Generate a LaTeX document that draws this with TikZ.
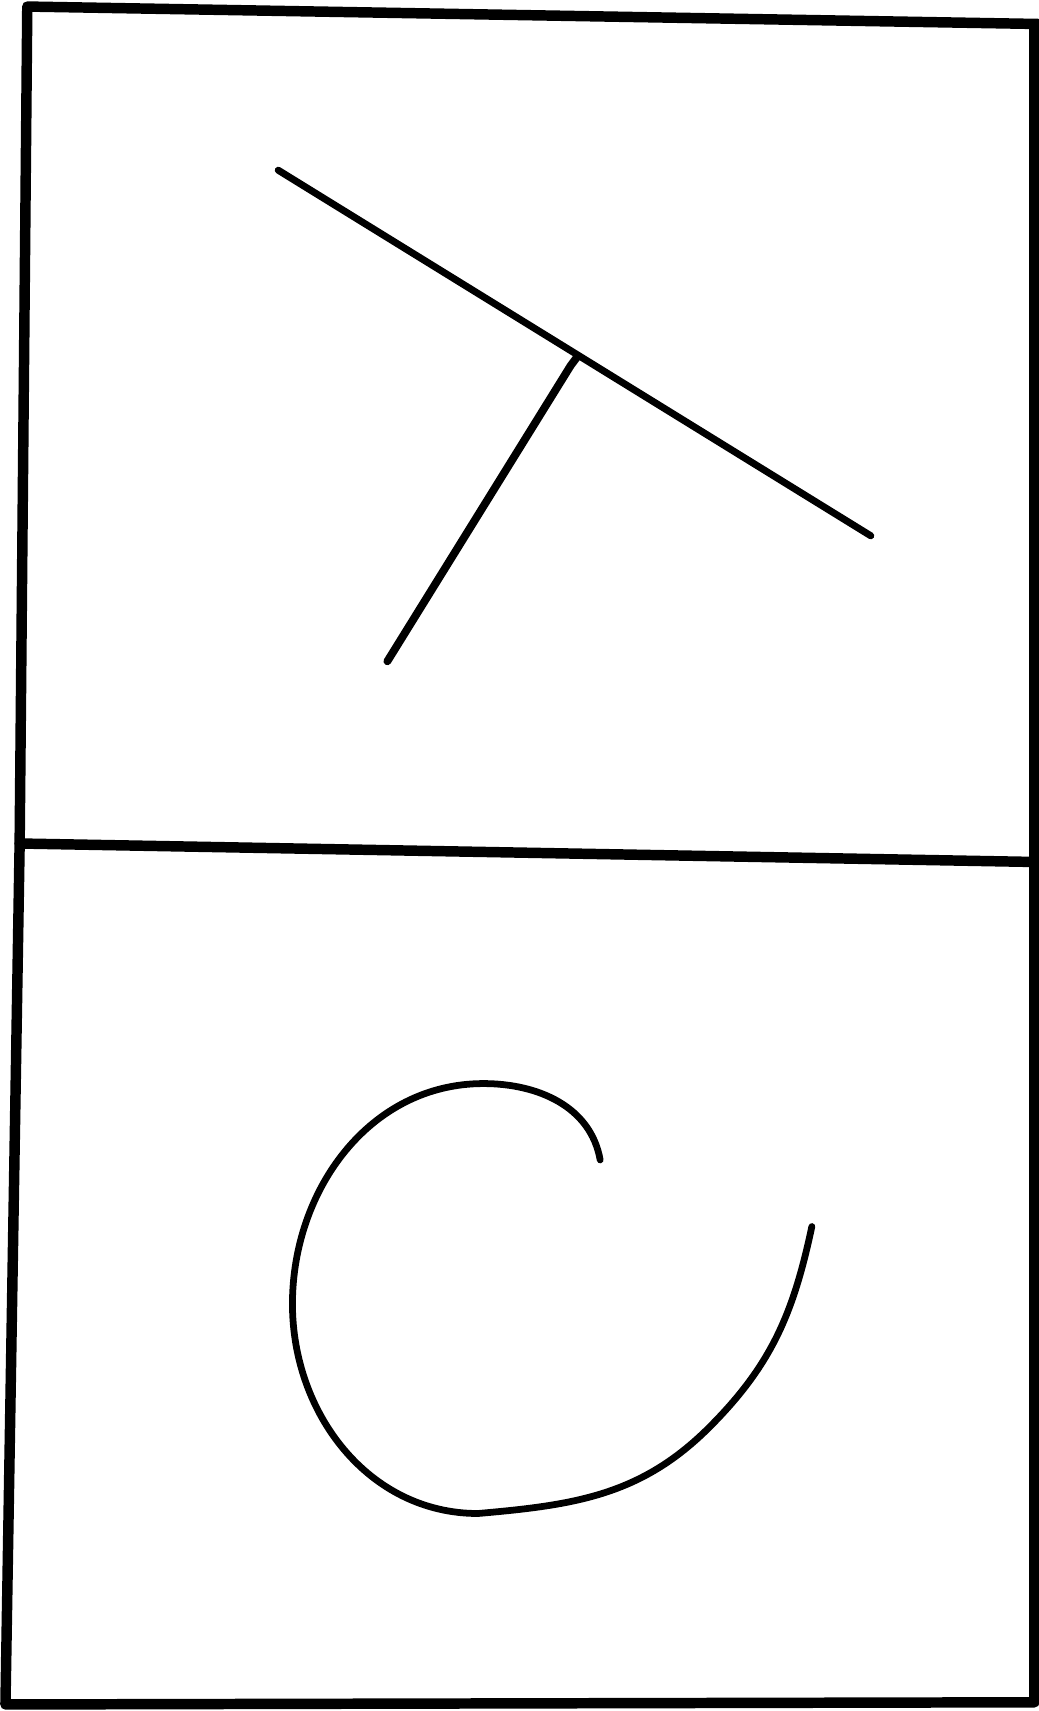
\documentclass[tikz,border=0pt]{standalone}
\begin{document}
\begin{tikzpicture}[x=0.5pt,y=-0.5pt,
  frame/.style={line width=4.8pt,line cap=round,line join=round},
  stroke/.style={line width=3.2pt,line cap=round,line join=round}]
\fill[white] (0,0) rectangle (952,1568);
\useasboundingbox (0,0) rectangle (952,1568);
% outer frame
\draw[frame] (952,22) -- (25,6) -- (18,773) -- (5,1562) -- (948,1560) -- (948,22);
% divider
\draw[frame] (18,773) -- (952,790);
% T figure
\coordinate (a) at (255,156);
\coordinate (b) at (798,491);
\coordinate (j) at (529,327);
\coordinate (s) at (355,606);
\draw[stroke] (a) -- (b);
\draw[stroke,line width=3.6pt] (j) -- (523,335) -- (s);
% spiral
\coordinate (p0) at (550,1063);
\coordinate (p1) at (443,993);
\coordinate (p2) at (268,1195);
\coordinate (p3) at (438,1387);
\coordinate (p3b) at (650,1308);
\coordinate (p4) at (744,1124);
\draw[stroke,line width=3.1pt] (p0) to[out=100,in=0] (p1)
  to[out=180,in=90] (p2)
  to[out=270,in=180] (p3)
  to[out=5,in=225] (p3b)
  to[out=45,in=258] (p4);
\end{tikzpicture}
\end{document}
